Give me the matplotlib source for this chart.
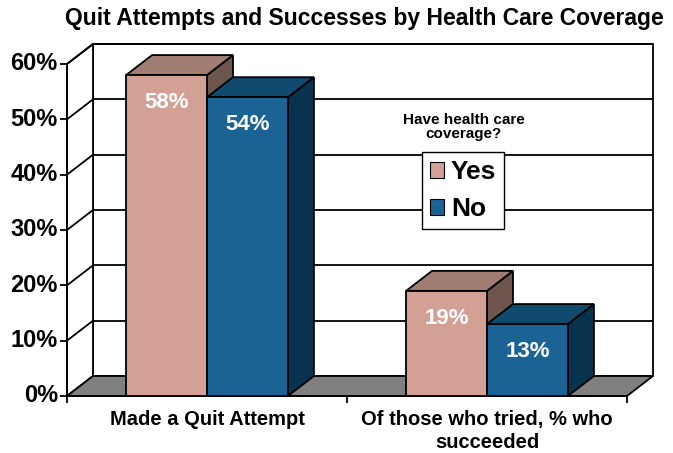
import matplotlib.pyplot as plt
from matplotlib.patches import Polygon, Patch

plt.rcParams['font.family'] = ['Liberation Sans', 'DejaVu Sans']
plt.rcParams['font.weight'] = 'bold'

categories = ["Made a Quit Attempt", "Of those who tried, % who\nsucceeded"]
series = ["Yes", "No"]
yes_vals = [58, 19]
no_vals = [54, 13]
yticks = [0, 10, 20, 30, 40, 50, 60]

# face colours: front, top, side
colors = {
    "Yes": ("#D3A096", "#A17D73", "#6D544C"),
    "No": ("#1A6394", "#114A6F", "#08324E"),
}

W, H = 673, 453
fig = plt.figure(figsize=(W / 100, H / 100), dpi=100)
ax = fig.add_axes([67 / W, 57 / H, 560 / W, 332 / H])
ax.set_xlim(0, 2)
ax.set_ylim(0, 60)
ax.axis("off")

# depth of the 3D box in data units (26 px right, 20 px up)
dx = 26 / (560 / 2)
dy = 20 / (332 / 60)
lw = 1.3

def poly(pts, fc, z=1, ec="black", lw=lw):
    ax.add_patch(Polygon(pts, closed=True, facecolor=fc, edgecolor=ec,
                         linewidth=lw, clip_on=False, zorder=z))

def line(xs, ys, z=2, lw=lw):
    ax.plot(xs, ys, color="black", linewidth=lw, clip_on=False, zorder=z,
            solid_capstyle="butt")

# back wall, left wall and floor
poly([(dx, dy), (2 + dx, dy), (2 + dx, 60 + dy), (dx, 60 + dy)], "white", z=0)
poly([(0, 0), (dx, dy), (dx, 60 + dy), (0, 60)], "white", z=0)
poly([(0, 0), (2, 0), (2 + dx, dy), (dx, dy)], "#808080", z=0.5)

for t in yticks[1:]:
    line([0, dx], [t, t + dy], z=0.6)
    line([dx, 2 + dx], [t + dy, t + dy], z=0.6)
line([0, 0], [0, 60], z=3)
for t in yticks:
    line([-0.025, 0], [t, t], z=3)
    ax.text(-0.033, t, f"{t}%", ha="right", va="center", fontsize=17,
            fontweight="bold")
for xt in [0, 1, 2]:
    line([xt, xt], [0, -1.2], z=3)
line([0, 2], [0, 0], z=3)

# bars
bw = 0.289
for i in range(len(categories)):
    for j, (name, vals) in enumerate([("Yes", yes_vals), ("No", no_vals)]):
        v = vals[i]
        x0 = i + 0.5 - bw + j * bw
        x1 = x0 + bw
        front, top, side = colors[name]
        poly([(x1, 0), (x1 + dx, dy), (x1 + dx, v + dy), (x1, v)], side, z=4 + j)
        poly([(x0, v), (x1, v), (x1 + dx, v + dy), (x0 + dx, v + dy)], top, z=4 + j)
        poly([(x0, 0), (x1, 0), (x1, v), (x0, v)], front, z=4 + j)
        ax.text((x0 + x1) / 2, v - 5, f"{v}%", ha="center", va="center",
                color="white", fontsize=16, fontweight="bold", zorder=10)
    ax.text(i + 0.5, -2.6, categories[i], ha="center", va="top",
            fontsize=14.5, fontweight="bold", linespacing=1.25)

fig.text(364 / W, 1 - 18 / H, "Quit Attempts and Successes by Health Care Coverage",
         ha="center", va="center", fontsize=16.5, fontweight="bold")

fig.text(464 / W, 1 - 127 / H, "Have health care\ncoverage?", ha="center",
         va="center", fontsize=11, fontweight="bold", linespacing=1.05)
handles = [Patch(facecolor=colors[s][0], edgecolor="black", linewidth=0.8) for s in series]
leg = ax.legend(handles, series, loc="upper left",
                bbox_to_anchor=(422 / W, 1 - 152 / H), bbox_transform=fig.transFigure,
                prop={"size": 19, "weight": "bold"}, frameon=True, fancybox=False,
                edgecolor="black", framealpha=1, handlelength=0.55, handleheight=0.55,
                handletextpad=0.25, labelspacing=0.5, borderpad=0.3,
                borderaxespad=0)
leg.get_frame().set_linewidth(1.0)
leg.set_zorder(20)

fig.savefig("out.png", dpi=100)
